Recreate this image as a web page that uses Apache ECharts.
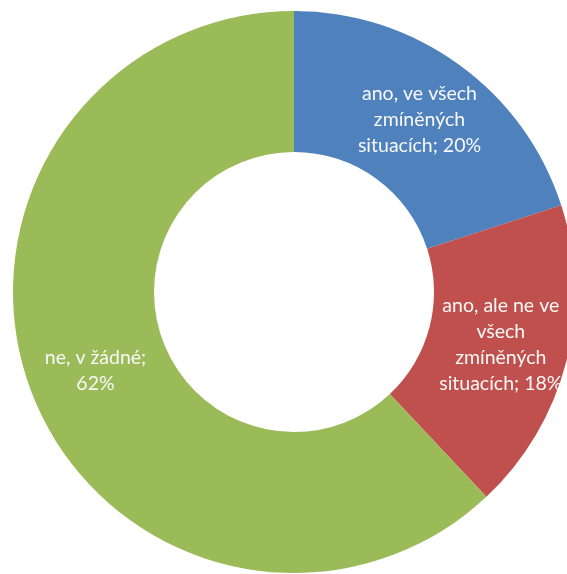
<!DOCTYPE html>
<html>
<head>
<meta charset="utf-8">
<script src="https://cdn.jsdelivr.net/npm/echarts@6/dist/echarts.min.js"></script>
<style>
  html, body { margin: 0; padding: 0; background: #fff; }
  #chart { width: 567px; height: 574px; }
</style>
</head>
<body>
<div id="chart"></div>
<script>
// Answer categories and their shares (%)
const categories = [
  'ano, ve všech zmíněných situacích',
  'ano, ale ne ve všech zmíněných situacích',
  'ne, v žádné'
];
const shares = [20, 18, 62];
const colors = ['#4F81BD', '#C0504D', '#9BBB59'];
// wrapping width of each slice label (px)
const labelWidths = [134, 134, 118];

const FONT_SIZE = 19.5;
const FONT_FAMILY = 'Lato, "Open Sans", sans-serif';

// word-wrap a label to a given pixel width
const measureCtx = document.createElement('canvas').getContext('2d');
measureCtx.font = FONT_SIZE + 'px ' + FONT_FAMILY;
function wrap(text, maxWidth) {
  const words = text.split(' ');
  const lines = [];
  let line = '';
  words.forEach(w => {
    const test = line ? line + ' ' + w : w;
    if (line && measureCtx.measureText(test).width > maxWidth) {
      lines.push(line);
      line = w;
    } else {
      line = test;
    }
  });
  if (line) lines.push(line);
  return lines.join('\n');
}

const chart = echarts.init(document.getElementById('chart'));
chart.setOption({
  animation: false,
  series: [{
    type: 'pie',
    center: [294, 292],
    radius: [140, 281],
    startAngle: 90,
    clockwise: true,
    avoidLabelOverlap: false,
    label: {
      show: true,
      position: 'inside',
      formatter: p => wrap(p.name + '; ' + p.value + '%', labelWidths[p.dataIndex]),
      color: '#f8f8f8',
      fontFamily: FONT_FAMILY,
      fontSize: FONT_SIZE,
      lineHeight: 26,
      align: 'center'
    },
    labelLine: { show: false },
    itemStyle: { borderWidth: 0 },
    emphasis: { disabled: true },
    data: categories.map((name, i) => ({
      name: name,
      value: shares[i],
      itemStyle: { color: colors[i] }
    }))
  }]
});
</script>
</body>
</html>
